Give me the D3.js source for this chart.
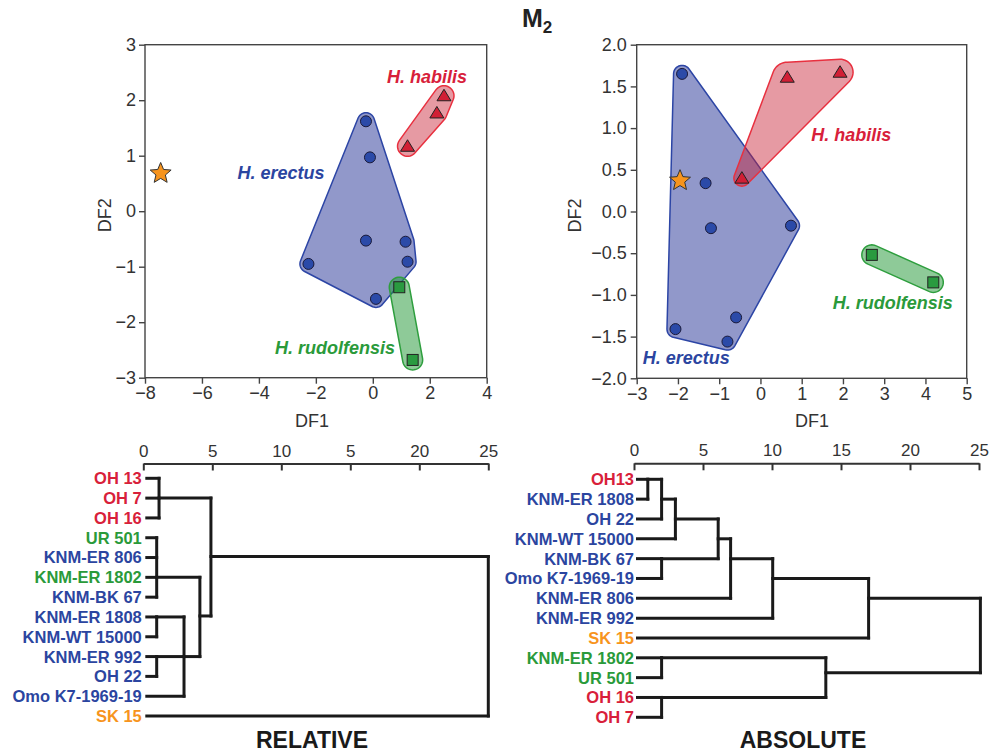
<!DOCTYPE html>
<html>
<head>
<meta charset="utf-8">
<script src="https://cdn.jsdelivr.net/npm/d3@7"></script>
<style>
body { margin: 0; background: #fff; }
svg { display: block; }
text { font-family: "Liberation Sans", Arial, Helvetica, sans-serif; }
</style>
</head>
<body>
<svg id="chart"></svg>
<script>
// scatter data (DF1, DF2)
var relErectus = [[-0.24,1.62],[-0.10,0.97],[-0.24,-0.53],[1.15,-0.55],[1.22,-0.91],[-2.26,-0.95],[0.11,-1.58]];
var relHabilis = [[2.50,2.08],[2.25,1.77],[1.22,1.17]];
var relRudolfensis = [[0.93,-1.37],[1.40,-2.68]];
var relSK15 = [[-7.45,0.68]];

var absErectus = [[-1.90,1.65],[-1.33,0.34],[-1.20,-0.20],[0.74,-0.17],[-0.59,-1.27],[-0.80,-1.56],[-2.06,-1.41]];
var absHabilis = [[0.65,1.61],[1.93,1.67],[-0.45,0.40]];
var absRudolfensis = [[2.70,-0.52],[4.19,-0.85]];
var absSK15 = [[-1.95,0.37]];

var speciesNames = ["H. habilis", "H. erectus", "H. rudolfensis"];
var relLabelPos = [[1.9,2.42],[-3.22,0.70],[-1.33,-2.46]];
var absLabelPos = [[2.2,0.92],[-1.8,-1.75],[3.21,-1.09]];

var relXTicks = [-8,-6,-4,-2,0,2,4];
var relYTicks = [-3,-2,-1,0,1,2,3];
var absXTicks = [-3,-2,-1,0,1,2,3,4,5];
var absYTicks = [-2,-1.5,-1,-0.5,0,0.5,1,1.5,2];

// dendrogram data
var relLeaves = ["OH 13","OH 7","OH 16","UR 501","KNM-ER 806","KNM-ER 1802","KNM-BK 67","KNM-ER 1808","KNM-WT 15000","KNM-ER 992","OH 22","Omo K7-1969-19","SK 15"];
var relTaxa = ["hab","hab","hab","rud","ere","rud","ere","ere","ere","ere","ere","ere","sk"];
var relNodes = [
  {id:"a", kids:[0,1,2], h:1.14, row:1},
  {id:"b", kids:[3,4,5,6], h:0.97, row:5},
  {id:"c", kids:[7,8], h:0.97, row:7},
  {id:"d", kids:[9,10], h:0.97, row:9},
  {id:"e", kids:["c","d",11], h:2.95, row:9},
  {id:"g", kids:["b","e"], h:4.1, row:6.95},
  {id:"f", kids:["a","g"], h:4.9, row:3.95},
  {id:"h", kids:["f",12], h:25.0}
];
var relTickLabels = ["0","5","10","5","20","25"];

var absLeaves = ["OH13","KNM-ER 1808","OH 22","KNM-WT 15000","KNM-BK 67","Omo K7-1969-19","KNM-ER 806","KNM-ER 992","SK 15","KNM-ER 1802","UR 501","OH 16","OH 7"];
var absTaxa = ["hab","ere","ere","ere","ere","ere","ere","ere","sk","rud","rud","hab","hab"];
var absNodes = [
  {id:"n1", kids:[0,1], h:1.0, row:0},
  {id:"n2", kids:["n1",2], h:2.0, row:1},
  {id:"n3", kids:["n2",3], h:3.0, row:2},
  {id:"n4", kids:[4,5], h:2.0, row:4},
  {id:"n5", kids:["n3","n4"], h:6.1, row:3},
  {id:"n6", kids:["n5",6], h:7.0, row:4},
  {id:"n7", kids:["n6",7], h:10.05, row:5},
  {id:"n8", kids:["n7",8], h:17.0, row:6},
  {id:"n9", kids:[9,10], h:2.0, row:9},
  {id:"n10", kids:[11,12], h:2.0, row:11},
  {id:"n11", kids:["n9","n10"], h:13.9, row:9.75},
  {id:"n12", kids:["n8","n11"], h:25.1}
];
var absTickLabels = ["0","5","10","15","20","25"];
var dendroTicks = [0,5,10,15,20,25];

var taxonColor = {hab:"#d8203a", ere:"#2b45a0", rud:"#2a9a3a", sk:"#f7941d"};

var width = 1003, height = 753;
var svg = d3.select("svg#chart").attr("width", width).attr("height", height);

// title
var title = svg.append("text")
  .attr("x", 522).attr("y", 27)
  .attr("font-size", 25).attr("font-weight", "bold").attr("fill", "#222")
  .text("M");
title.append("tspan").attr("dy", 6).attr("font-size", 17).text("2");

// convex hull around discs of radius pad[i] round every point
var padHull = function(pts, pad) {
  var samples = [];
  pts.forEach(function(p, i) {
    var r = Array.isArray(pad) ? pad[i] : pad;
    for (var a = 0; a < 48; a++) {
      var t = a * Math.PI / 24;
      samples.push([p[0] + r * Math.cos(t), p[1] + r * Math.sin(t)]);
    }
  });
  return d3.polygonHull(samples);
};

var starPath = function(r) {
  var pts = [];
  for (var i = 0; i < 10; i++) {
    var rr = i % 2 == 0 ? r : r * 0.45;
    var t = -Math.PI / 2 + i * Math.PI / 5;
    pts.push([rr * Math.cos(t), rr * Math.sin(t)]);
  }
  return "M" + pts.join("L") + "Z";
};

var drawScatter = function(opt) {
  var x = d3.scaleLinear().domain(opt.xd).range([opt.x0, opt.x1]);
  var y = d3.scaleLinear().domain(opt.yd).range([opt.y1, opt.y0]);
  var g = svg.append("g");

  var xAxis = g.append("g").attr("transform", "translate(0," + opt.y1 + ")")
    .call(d3.axisBottom(x).tickValues(opt.xt).tickSize(6).tickPadding(3).tickFormat(d3.format("d")));
  var yAxis = g.append("g").attr("transform", "translate(" + opt.x0 + ",0)")
    .call(d3.axisLeft(y).tickValues(opt.yt).tickSize(6).tickPadding(opt.yPad).tickFormat(d3.format(opt.yf)));
  [xAxis, yAxis].forEach(function(a) {
    a.select(".domain").remove();
    a.selectAll("line").attr("stroke", "#444").attr("stroke-width", 1.4);
    a.selectAll("text").attr("font-size", 18).attr("fill", "#333")
      .style("font-family", "'Liberation Sans', Arial, sans-serif");
  });
  g.append("rect").attr("x", opt.x0).attr("y", opt.y0)
    .attr("width", opt.x1 - opt.x0).attr("height", opt.y1 - opt.y0)
    .attr("fill", "none").attr("stroke", "#444").attr("stroke-width", 1.4);

  g.append("text").attr("x", opt.df1x).attr("y", 427)
    .attr("text-anchor", "middle").attr("font-size", 18).attr("fill", "#333").text("DF1");
  g.append("text").attr("transform", "translate(" + opt.df2x + "," + ((opt.y0 + opt.y1) / 2 + 4) + ") rotate(-90)")
    .attr("text-anchor", "middle").attr("dy", "0.35em").attr("font-size", 18).attr("fill", "#333").text("DF2");

  var px = function(d) { return [x(d[0]), y(d[1])]; };
  var line = d3.line().curve(d3.curveLinearClosed);
  var groups = [
    {pts: opt.erectus, pad: 8.5, fill: "rgba(35,50,150,0.5)", stroke: "#2c45a5"},
    {pts: opt.habilis, pad: opt.habPad, fill: "rgba(200,30,50,0.45)", stroke: "#e8303f"},
    {pts: opt.rudolfensis, pad: 10, fill: "rgba(30,150,50,0.5)", stroke: "#2e9e3e"}
  ];
  groups.forEach(function(gr) {
    g.append("path").attr("d", line(padHull(gr.pts.map(px), gr.pad)))
      .attr("fill", gr.fill).attr("stroke", gr.stroke).attr("stroke-width", 1.5);
  });

  g.selectAll("circle.ere").data(opt.erectus).enter().append("circle")
    .attr("cx", function(d) { return x(d[0]); }).attr("cy", function(d) { return y(d[1]); })
    .attr("r", 5.5).attr("fill", "#2b4aa8").attr("stroke", "#1a1a3a").attr("stroke-width", 1);
  g.selectAll("path.hab").data(opt.habilis).enter().append("path")
    .attr("transform", function(d) { return "translate(" + x(d[0]) + "," + y(d[1]) + ")"; })
    .attr("d", "M0,-6.5L7,5L-7,5Z")
    .attr("fill", "#d11f35").attr("stroke", "#222").attr("stroke-width", 1);
  g.selectAll("rect.rud").data(opt.rudolfensis).enter().append("rect")
    .attr("x", function(d) { return x(d[0]) - 5.5; }).attr("y", function(d) { return y(d[1]) - 5.5; })
    .attr("width", 11).attr("height", 11)
    .attr("fill", "#2a9a40").attr("stroke", "#222").attr("stroke-width", 1);
  g.selectAll("path.sk").data(opt.sk).enter().append("path")
    .attr("transform", function(d) { return "translate(" + x(d[0]) + "," + y(d[1]) + ")"; })
    .attr("d", starPath(11))
    .attr("fill", "#f7941d").attr("stroke", "#333").attr("stroke-width", 1);

  var lblColors = [taxonColor.hab, taxonColor.ere, taxonColor.rud];
  speciesNames.forEach(function(name, i) {
    g.append("text").attr("x", x(opt.labels[i][0])).attr("y", y(opt.labels[i][1]))
      .attr("text-anchor", "middle").attr("dy", "0.35em")
      .attr("font-size", 18).attr("font-weight", "bold").attr("font-style", "italic")
      .attr("fill", lblColors[i]).text(name);
  });
};

drawScatter({
  xd: [-8, 4], yd: [-3, 3], x0: 145, x1: 486.7, y0: 44.7, y1: 377.7,
  xt: relXTicks, yt: relYTicks, yf: "d", yPad: 3,
  erectus: relErectus, habilis: relHabilis, rudolfensis: relRudolfensis, sk: relSK15,
  labels: relLabelPos, habPad: 10, df1x: 312, df2x: 105
});
drawScatter({
  xd: [-3, 5], yd: [-2, 2], x0: 636.7, x1: 966.7, y0: 44.7, y1: 378.3,
  xt: absXTicks, yt: absYTicks, yf: ".1f", yPad: 4,
  erectus: absErectus, habilis: absHabilis, rudolfensis: absRudolfensis, sk: absSK15,
  labels: absLabelPos, habPad: [15, 13, 8], df1x: 812, df2x: 575
});

var drawDendro = function(opt) {
  var x = d3.scaleLinear().domain([0, 25]).range([opt.x0, opt.x1]);
  var yr = d3.scaleLinear().domain([0, 12]).range([opt.r0, opt.r12]);
  var g = svg.append("g");

  var ax = g.append("g").attr("transform", "translate(0," + opt.axisY + ")")
    .call(d3.axisTop(x).tickValues(dendroTicks).tickSizeInner(-7).tickSizeOuter(0).tickPadding(7)
      .tickFormat(function(d, i) { return opt.tickLabels[i]; }));
  ax.select(".domain").attr("stroke", "#333").attr("stroke-width", 2);
  ax.selectAll("line").attr("stroke", "#333").attr("stroke-width", 2);
  ax.selectAll("text").attr("font-size", 17).attr("fill", "#333")
    .style("font-family", "'Liberation Sans', Arial, sans-serif");

  var byId = {};
  opt.nodes.forEach(function(n) { byId[n.id] = n; });
  var rowOf = function(k) { return typeof k == "number" ? k : byId[k].row; };
  var xOf = function(k) { return typeof k == "number" ? opt.x0 + 3.5 : x(byId[k].h); };

  var segs = [];
  opt.nodes.forEach(function(n) {
    var rows = n.kids.map(rowOf);
    segs.push([x(n.h), yr(d3.min(rows)), x(n.h), yr(d3.max(rows))]);
    n.kids.forEach(function(k) {
      segs.push([xOf(k), yr(rowOf(k)), x(n.h), yr(rowOf(k))]);
    });
  });
  g.selectAll("line.seg").data(segs).enter().append("line")
    .attr("x1", function(d) { return d[0]; }).attr("y1", function(d) { return d[1]; })
    .attr("x2", function(d) { return d[2]; }).attr("y2", function(d) { return d[3]; })
    .attr("stroke", "#1a1a1a").attr("stroke-width", 3).attr("stroke-linecap", "square");

  g.selectAll("text.leaf").data(opt.leaves).enter().append("text")
    .attr("x", opt.x0 - opt.lblGap).attr("y", function(d, i) { return yr(i); })
    .attr("dy", "0.36em").attr("text-anchor", "end")
    .attr("font-size", 16.5).attr("font-weight", "bold")
    .attr("fill", function(d, i) { return taxonColor[opt.taxa[i]]; })
    .text(function(d) { return d; });

  g.append("text").attr("x", opt.titleX).attr("y", 748)
    .attr("text-anchor", "middle").attr("font-size", 23).attr("font-weight", "bold")
    .attr("fill", "#1a1a1a").text(opt.title);
};

drawDendro({
  x0: 143.3, x1: 488.3, axisY: 463.5, r0: 478.3, r12: 716,
  leaves: relLeaves, taxa: relTaxa, nodes: relNodes, tickLabels: relTickLabels,
  lblGap: 1.5, title: "RELATIVE", titleX: 312
});
drawDendro({
  x0: 634, x1: 979, axisY: 463.3, r0: 479.3, r12: 717.3,
  leaves: absLeaves, taxa: absTaxa, nodes: absNodes, tickLabels: absTickLabels,
  lblGap: 0, title: "ABSOLUTE", titleX: 803
});
</script>
</body>
</html>
